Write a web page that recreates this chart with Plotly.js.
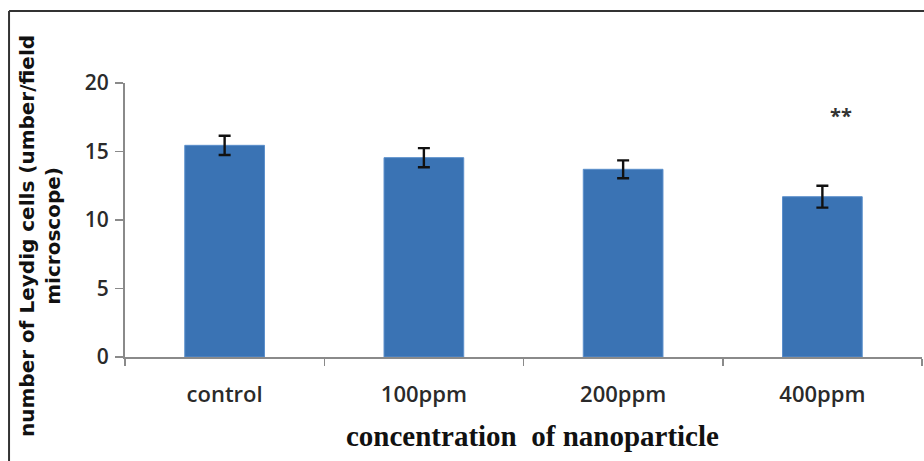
<!DOCTYPE html>
<html>
<head>
<meta charset="utf-8">
<script src="https://cdn.plot.ly/plotly-3.0.1.min.js"></script>
<style>
html,body{margin:0;padding:0;background:#fff;}
#chart{width:924px;height:461px;}
</style>
</head>
<body>
<div id="chart"></div>
<script>
const categories = ["control", "100ppm", "200ppm", "400ppm"];
const values = [15.45, 14.55, 13.7, 11.7];
const errors = [0.7, 0.7, 0.65, 0.8];
const yTicks = [0, 5, 10, 15, 20];
const sigLabel = "**";
const sigCategory = "400ppm";
const sigY = 17.65;

const trace = {
  type: "bar",
  x: categories,
  y: values,
  marker: {color: "#3a73b4", line: {color: "#5b8fcb", width: 1}},
  error_y: {type: "data", array: errors, visible: true, color: "#111", thickness: 2.4, width: 6},
  hoverinfo: "x+y"
};

const layout = {
  width: 924, height: 461,
  margin: {l: 125, r: 2, t: 83, b: 104},
  paper_bgcolor: "#fff", plot_bgcolor: "#fff",
  showlegend: false,
  bargap: 0.6,
  font: {family: "'Open Sans', sans-serif", color: "#222"},
  xaxis: {
    type: "category",
    showline: true, linecolor: "#8a8a8a", linewidth: 2,
    ticks: "outside", tickson: "boundaries", ticklen: 7, tickcolor: "#8a8a8a", tickwidth: 1.5,
    tickfont: {size: 22, color: "#2a2a2a", family: "'Open Sans', sans-serif", weight: 600},
    ticklabelstandoff: 17,
    showgrid: false, zeroline: false,
    title: {text: ""}
  },
  yaxis: {
    range: [0, 20],
    tickvals: yTicks,
    showline: true, linecolor: "#8a8a8a", linewidth: 2,
    ticks: "outside", ticklen: 8, tickcolor: "#8a8a8a", tickwidth: 1.5,
    tickfont: {size: 21, color: "#2a2a2a", family: "'Open Sans', sans-serif", weight: 600},
    ticklabelstandoff: 2,
    showgrid: false, zeroline: false,
    title: {text: ""}
  },
  annotations: [
    {
      text: "<b>" + sigLabel + "</b>", x: sigCategory, y: sigY, xref: "x", yref: "y",
      showarrow: false, xshift: 19, font: {size: 20, color: "#333", family: "'Open Sans', sans-serif"}
    },
    {
      text: "<b>number of Leydig cells (umber/field<br>microscope)</b>",
      xref: "paper", yref: "paper", x: -0.106, y: 0.44, textangle: -90,
      xanchor: "center", yanchor: "middle", showarrow: false,
      font: {size: 20, color: "#111", family: "'DejaVu Sans', sans-serif", weight: 700}
    },
    {
      text: "<b>concentration  of nanoparticle</b>",
      xref: "paper", yref: "paper", x: 0.511, y: -0.29,
      xanchor: "center", yanchor: "middle", showarrow: false,
      font: {size: 29, color: "#111", family: "'Liberation Serif', 'Times New Roman', serif"}
    }
  ],
  shapes: [
    {type: "line", xref: "paper", yref: "paper", x0: -0.1455, x1: 1.01, y0: 1.2628, y1: 1.2628, line: {color: "#333", width: 2}},
    {type: "line", xref: "paper", yref: "paper", x0: -0.1455, x1: -0.1455, y0: 1.2628, y1: -0.4, line: {color: "#333", width: 2}}
  ]
};

Plotly.newPlot("chart", [trace], layout, {displayModeBar: false, staticPlot: true});
</script>
</body>
</html>
